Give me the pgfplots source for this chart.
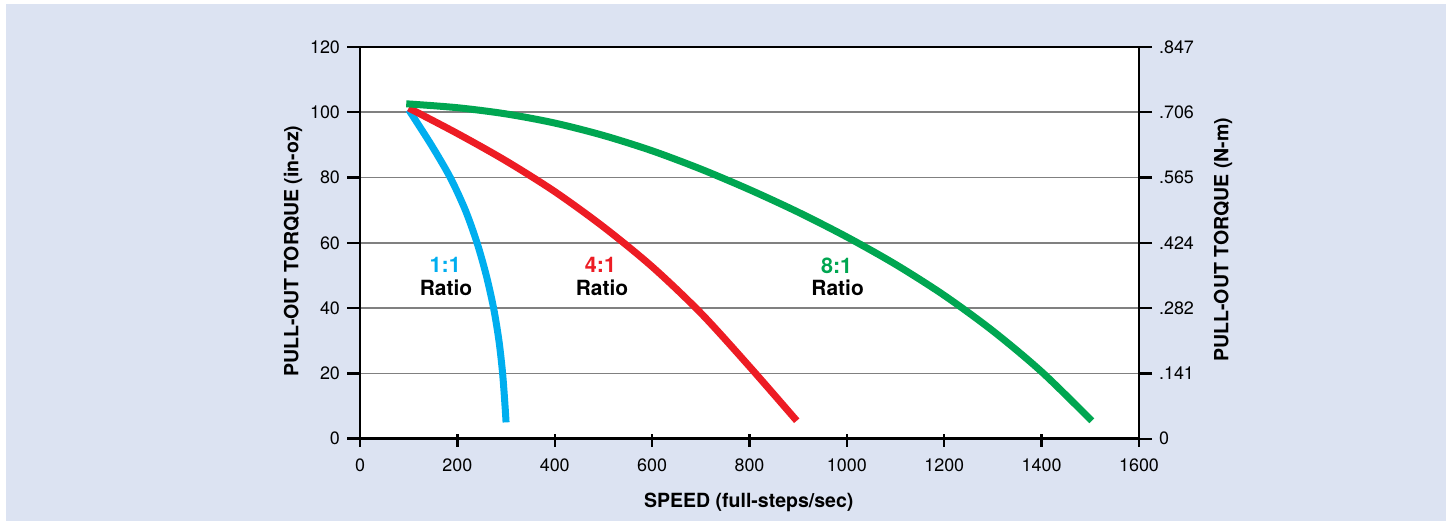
\documentclass[border=0pt]{standalone}
\usepackage{fontspec}
\setmainfont{TeX Gyre Heros}
\usepackage{pgfplots}
\pgfplotsset{compat=1.18}
\definecolor{panel}{HTML}{DCE3F2}
\definecolor{cone}{HTML}{00AEEF}
\definecolor{cfour}{HTML}{ED1C24}
\definecolor{ceight}{HTML}{00A651}
\definecolor{gridgray}{HTML}{808080}
\begin{document}
\begin{tikzpicture}
\useasboundingbox (0,0) rectangle (724.5bp,262.5bp);
\fill[white] (0,0) rectangle (724.5bp,262.5bp);
\fill[panel] (3bp,2bp) rectangle (723bp,260.5bp);
\pgfplotsset{
  common/.style={
    at={(180bp,43.15bp)}, anchor=south west,
    scale only axis, width=389.5bp, height=195.85bp,
    xmin=0, xmax=1600, ymin=0, ymax=120,
    ytick={0,20,...,120},
    axis line style={line width=1.2bp},
    tick style={black, line width=1.2bp},
    tick align=outside, major tick length=6.5bp,
    font=\fontsize{9}{11}\selectfont,
    /pgf/number format/assume math mode=true,
    /pgf/number format/1000 sep={},
    label style={font=\bfseries\fontsize{9.8}{11}\selectfont},
  }
}
\begin{axis}[common,
  axis background/.style={fill=white},
  xtick={0,200,...,1600},
  ymajorgrids, grid style={gridgray, line width=0.8bp},
  xtick style={yshift=2.5bp},
  ytick pos=left, xtick pos=bottom,
  xlabel={SPEED (full-steps/sec)},
  ylabel={PULL-OUT TORQUE (in-oz)},
  xlabel style={at={(axis description cs:0.499,-0.162)}, anchor=center},
  ylabel style={at={(axis description cs:-0.086,0.479)}, anchor=center},
]
\addplot[cone, line width=3.5bp, smooth] coordinates {
(100,100.8) (146.4,90) (185.4,80) (216.4,70) (240.4,60) (259.4,50) (274.4,40) (285.4,30) (292.9,20) (297.9,10) (300,5)};
\addplot[cfour, line width=3.5bp, smooth] coordinates {
(100,101.3) (200,93.5) (300,85.1) (400,75.7) (500,64.9) (600,52.7) (700,38.5) (800,22.1) (897,5.5)};
\addplot[ceight, line width=3.5bp, smooth] coordinates {
(95,102.6) (200,101.4) (300,99.5) (400,96.7) (500,92.9) (600,88.2) (700,82.6) (800,76.3) (900,69.4) (1000,61.8) (1100,53.4) (1200,43.9) (1300,33.0) (1400,20.5) (1503,5.5)};
\node[cone, font=\bfseries\fontsize{10.8}{12}\selectfont] at (axis cs:175,53.1) {1:1};
\node[font=\bfseries\fontsize{10.5}{12}\selectfont] at (axis cs:176.6,46.2) {Ratio};
\node[cfour, font=\bfseries\fontsize{10.8}{12}\selectfont] at (axis cs:494,53.1) {4:1};
\node[font=\bfseries\fontsize{10.5}{12}\selectfont] at (axis cs:497,46.2) {Ratio};
\node[ceight, font=\bfseries\fontsize{10.8}{12}\selectfont] at (axis cs:979,53.1) {8:1};
\node[font=\bfseries\fontsize{10.5}{12}\selectfont] at (axis cs:981,46.2) {Ratio};
\end{axis}
\begin{axis}[common,
  axis x line=none, axis y line*=right,
  ytick pos=right,
  yticklabels={0,.141,.282,.424,.565,.706,.847},
  ylabel={PULL-OUT TORQUE (N-m)},
  every axis y label/.style={at={(axis description cs:1.108,0.508)}, anchor=center, rotate=90, font=\bfseries\fontsize{9.8}{11}\selectfont},
]
\end{axis}
\end{tikzpicture}
\end{document}
